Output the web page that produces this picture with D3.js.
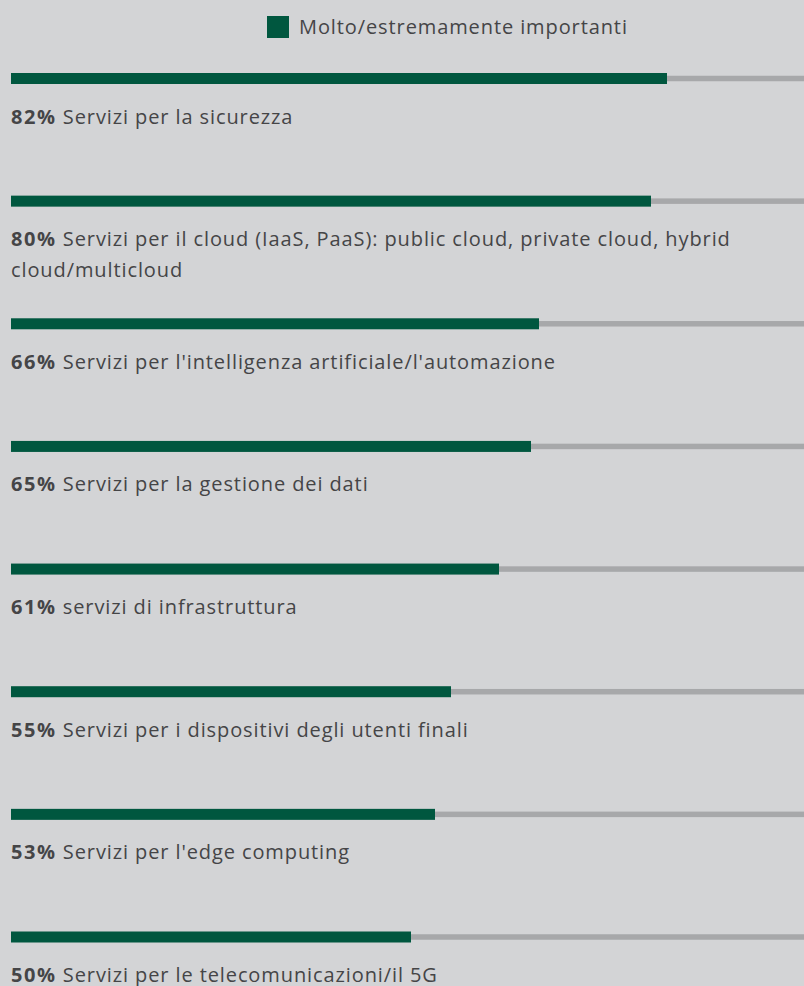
<!DOCTYPE html>
<html>
<head>
<meta charset="utf-8">
<script src="https://cdn.jsdelivr.net/npm/d3@7"></script>
<style>
  html, body { margin: 0; padding: 0; background: #d3d4d6; }
  svg { display: block; }
</style>
</head>
<body>
<div id="chart"></div>
<script>
// ━━━━━━━━━━━━━━━━━━━━━━━━━━━━━━━━━━━━━━━━━━━━━━━━━━━━━━━━━━━━━━━━━━━━━━━━━━━━━━
// Data /////////////////////////////////////////////////////////////////////////
// ━━━━━━━━━━━━━━━━━━━━━━━━━━━━━━━━━━━━━━━━━━━━━━━━━━━━━━━━━━━━━━━━━━━━━━━━━━━━━━

const categories = [
  'Servizi per la sicurezza',
  'Servizi per il cloud (IaaS, PaaS): public cloud, private cloud, hybrid cloud/multicloud',
  "Servizi per l'intelligenza artificiale/l'automazione",
  'Servizi per la gestione dei dati',
  'servizi di infrastruttura',
  'Servizi per i dispositivi degli utenti finali',
  "Servizi per l'edge computing",
  'Servizi per le telecomunicazioni/il 5G'
];
const values = [82, 80, 66, 65, 61, 55, 53, 50];
const legendLabel = 'Molto/estremamente importanti';

// ━━━━━━━━━━━━━━━━━━━━━━━━━━━━━━━━━━━━━━━━━━━━━━━━━━━━━━━━━━━━━━━━━━━━━━━━━━━━━━
// SVG setup ////////////////////////////////////////////////////////////////////
// ━━━━━━━━━━━━━━━━━━━━━━━━━━━━━━━━━━━━━━━━━━━━━━━━━━━━━━━━━━━━━━━━━━━━━━━━━━━━━━

const width = 804, height = 986;
const green = '#00573f', track = '#a7a8aa', ink = '#454547';
const font = "'Open Sans', sans-serif";
const fs = 20;
const ls = 0.9;   // the original face runs wider than Open Sans

const svg = d3.select('#chart').append('svg')
  .attr('width', width)
  .attr('height', height)
  .attr('viewBox', [0, 0, width, height]);

svg.append('rect').attr('width', width).attr('height', height).attr('fill', '#d3d4d6');

const x = d3.scaleLinear().domain([0, 100]).range([11, 811]);
const y = d3.scalePoint().domain(categories).range([78.5, 937]);

// Legend ////////////////////////////////////////////////////////////////////////

const legend = svg.append('g').attr('id', 'legend');
legend.append('rect')
  .attr('x', 267).attr('y', 16).attr('width', 22).attr('height', 22)
  .attr('fill', green);
legend.append('text')
  .attr('x', 299).attr('y', 27).attr('dy', '0.35em')
  .attr('font-family', font).attr('font-size', fs).attr('letter-spacing', ls).attr('fill', ink)
  .text(legendLabel);

// Bars //////////////////////////////////////////////////////////////////////////

const rows = svg.append('g').attr('id', 'rows')
  .selectAll('g')
  .data(categories.map((c, i) => ({ cat: c, val: values[i] })))
  .join('g')
  .attr('transform', d => `translate(0,${y(d.cat)})`);

rows.append('rect')                       // grey track, runs off the right edge
  .attr('x', x(0)).attr('y', -2.75)
  .attr('width', x(100) - x(0)).attr('height', 5.5)
  .attr('fill', track);

rows.append('rect')
  .attr('x', x(0)).attr('y', -5.5)
  .attr('width', d => x(d.val) - x(0)).attr('height', 11)
  .attr('fill', green);

// Labels, wrapped by hand //////////////////////////////////////////////////////

const maxW = width - 11 - 8;
const lineH = 31;

rows.each(function(d) {
  const g = d3.select(this);
  const t = g.append('text')
    .attr('x', 11).attr('y', 45)
    .attr('font-family', font).attr('font-size', fs).attr('letter-spacing', ls).attr('fill', ink);
  t.append('tspan').attr('font-weight', 700).attr('letter-spacing', 1.6).text(d.val + '%');
  t.append('tspan').text(' ');

  const words = d.cat.split(' ');
  let line = [];
  let span = t.append('tspan');
  for (const w of words) {
    line.push(w);
    span.text(line.join(' '));
    if (t.node().getComputedTextLength() > maxW && line.length > 1) {
      line.pop();
      span.text(line.join(' '));
      line = [w];
      span = t.append('tspan').attr('x', 11).attr('dy', lineH).text(w);
    }
  }
});
</script>
</body>
</html>
